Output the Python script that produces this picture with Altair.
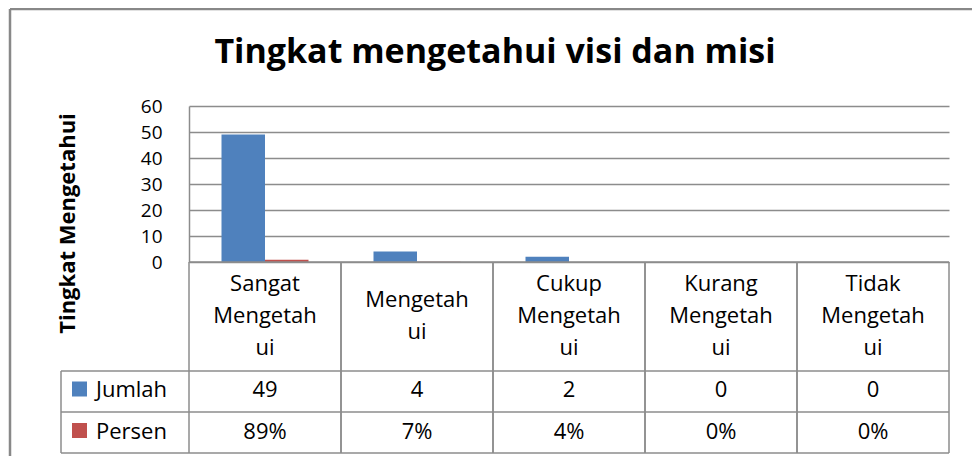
import altair as alt
import pandas as pd

# ---------------- data ----------------
categories = ["Sangat Mengetahui", "Mengetahui", "Cukup Mengetahui",
              "Kurang Mengetahui", "Tidak Mengetahui"]
tick_labels = ["Sangat\nMengetah\nui", "Mengetah\nui", "Cukup\nMengetah\nui",
               "Kurang\nMengetah\nui", "Tidak\nMengetah\nui"]
series = ["Jumlah", "Persen"]
jumlah = [49, 4, 2, 0, 0]
persen = [0.89, 0.07, 0.04, 0.0, 0.0]
colors = ["#4F81BD", "#C0504D"]
y_ticks = [0, 10, 20, 30, 40, 50, 60]
title_text = "Tingkat mengetahui visi dan misi"
y_title = "Tingkat Mengetahui"

rows = []
for c, j, p in zip(categories, jumlah, persen):
    rows.append({"category": c, "series": "Jumlah", "value": j, "display": str(j)})
    rows.append({"category": c, "series": "Persen", "value": p,
                 "display": f"{round(p * 100)}%"})
df = pd.DataFrame(rows)
head_df = pd.DataFrame({"category": categories, "label": tick_labels})
head_df["nlines"] = head_df["label"].str.count("\n") + 1
leg_df = pd.DataFrame({"series": series})
one = pd.DataFrame({"k": [0]})

# ---------------- layout / style ----------------
FONT = "Open Sans"
GRID = "#8c8c8c"
W, H = 760, 347
BASE = 156                      # pixel row of value 0
ROW_LINES = [265, 306, 347]     # table horizontal lines
ROW_CENTER = {"Jumlah": 284, "Persen": 325.5}
HEAD_CENTER = 210
LINE_H = 32
LEFT_TABLE = -128
FS = 22

xscale = alt.Scale(paddingInner=0, paddingOuter=0)


def xcat(**kw):
    return alt.X("category:N", sort=categories, scale=xscale, axis=None, **kw)


layers = []

# outer frame
layers.append(alt.Chart(one).mark_rule(color="#888888", strokeWidth=2.5).encode(
    x=alt.value(-179), x2=alt.value(W + 23), y=alt.value(-97)))
layers.append(alt.Chart(one).mark_rule(color="#888888", strokeWidth=2.5).encode(
    x=alt.value(-179), y=alt.value(-97), y2=alt.value(H + 3)))

# title
layers.append(alt.Chart(one).mark_text(
    text=title_text, font=FONT, fontSize=34, fontWeight="bold", color="black",
    align="center", baseline="alphabetic").encode(
    x=alt.value(306), y=alt.value(-43)))

# bars
layers.append(alt.Chart(df).mark_bar().encode(
    x=xcat(),
    xOffset=alt.XOffset("series:N", sort=series,
                        scale=alt.Scale(paddingInner=0, paddingOuter=0.747)),
    y=alt.Y("value:Q",
            scale=alt.Scale(domain=[0, 60], range=[BASE, 0], nice=False),
            axis=alt.Axis(values=y_ticks, grid=True, gridColor=GRID, gridWidth=1.5,
                          domain=True, domainColor=GRID, domainWidth=1.5,
                          ticks=False, labelFont=FONT, labelFontSize=19,
                          labelColor="black", labelPadding=27,
                          title=y_title, titleFont=FONT, titleFontSize=22,
                          titleFontWeight="bold", titleColor="black",
                          titleX=-122, titleY=117, titleAngle=270,
                          titleBaseline="middle", titleAlign="center")),
    color=alt.Color("series:N", scale=alt.Scale(domain=series, range=colors),
                    legend=None),
))

# table vertical lines
for bp in (0, 1):
    layers.append(alt.Chart(head_df).mark_rule(color=GRID, strokeWidth=1.5).encode(
        x=xcat(bandPosition=bp), y=alt.value(BASE), y2=alt.value(H)))
layers.append(alt.Chart(one).mark_rule(color=GRID, strokeWidth=1.5).encode(
    x=alt.value(LEFT_TABLE), y=alt.value(ROW_LINES[0]), y2=alt.value(H)))
# table horizontal lines
layers.append(alt.Chart(one).mark_rule(color=GRID, strokeWidth=1.5).encode(
    x=alt.value(0), x2=alt.value(W), y=alt.value(BASE)))
for yy in ROW_LINES:
    layers.append(alt.Chart(one).mark_rule(color=GRID, strokeWidth=1.5).encode(
        x=alt.value(LEFT_TABLE), x2=alt.value(W), y=alt.value(yy)))

# header (category labels), vertically centred per number of lines
for n in sorted(head_df["nlines"].unique()):
    layers.append(alt.Chart(head_df).transform_filter(alt.datum.nlines == int(n)).mark_text(
        font=FONT, fontSize=FS, color="black", lineBreak="\n", lineHeight=LINE_H,
        align="center", baseline="middle").encode(
        x=xcat(), y=alt.value(HEAD_CENTER - (int(n) - 1) * LINE_H / 2), text="label:N"))

# row values and legend keys
for s, col in zip(series, colors):
    layers.append(alt.Chart(df).transform_filter(alt.datum.series == s).mark_text(
        font=FONT, fontSize=FS, color="black", align="center", baseline="middle").encode(
        x=xcat(), y=alt.value(ROW_CENTER[s]), text="display:N"))
    sub = leg_df[leg_df.series == s]
    layers.append(alt.Chart(sub).mark_square(size=225, opacity=1).encode(
        x=alt.value(-109.5), y=alt.value(ROW_CENTER[s] - 1),
        color=alt.Color("series:N", scale=alt.Scale(domain=series, range=colors),
                        legend=None)))
    layers.append(alt.Chart(sub).mark_text(
        font=FONT, fontSize=FS, color="black", align="left", baseline="middle").encode(
        x=alt.value(-93), y=alt.value(ROW_CENTER[s]), text="series:N"))

chart = alt.layer(*layers).properties(
    width=W, height=H,
    autosize=alt.AutoSizeParams(type="none"),
    padding={"left": 181, "top": 98, "right": 23, "bottom": 3},
).configure_view(stroke=None)

chart.save("out.html", embed_options={"renderer": "svg", "actions": False})
